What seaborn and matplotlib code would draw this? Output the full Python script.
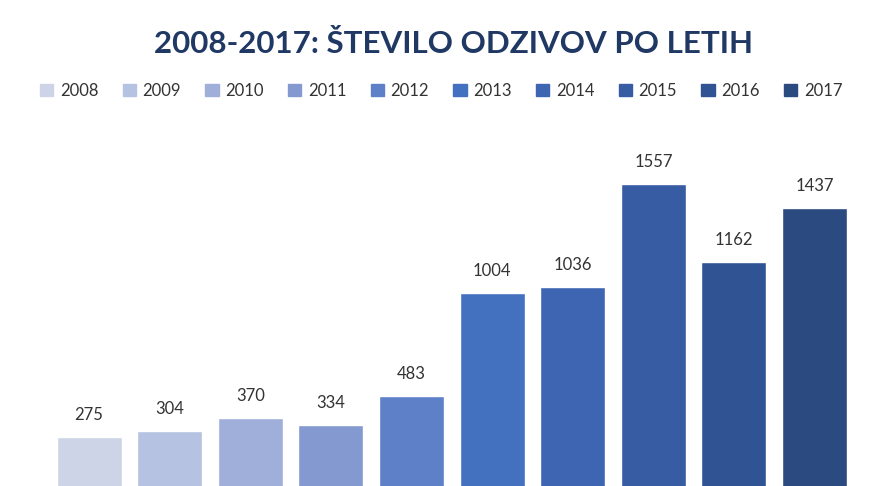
import matplotlib.pyplot as plt
import matplotlib.patches as mpatches
import seaborn as sns
import pandas as pd

# podatki
leta = ['2008', '2009', '2010', '2011', '2012', '2013', '2014', '2015', '2016', '2017']
odzivi = [275, 304, 370, 334, 483, 1004, 1036, 1557, 1162, 1437]
barve = ['#CDD4E8', '#B5C2E1', '#9FAFD9', '#8499D0', '#5E80C8',
         '#4470C0', '#3D65B2', '#375CA4', '#305493', '#2A4A80']

df = pd.DataFrame({'leto': leta, 'odzivi': odzivi})

sns.set_style('white')
plt.rcParams['font.family'] = ['Lato', 'DejaVu Sans']

fig = plt.figure(figsize=(8.84, 4.86), dpi=100)
ax = fig.add_axes([0.0551, -0.0103, 0.912, 0.73])

sns.barplot(data=df, x='leto', y='odzivi', hue='leto', palette=barve,
            dodge=False, legend=False, width=0.806, saturation=1, ax=ax)

ax.set_xlim(-0.5, 9.5)
ax.set_ylim(0, 1800)
ax.set_xlabel('')
ax.set_ylabel('')
ax.set_xticks([])
ax.set_yticks([])
sns.despine(ax=ax, left=True, bottom=True)

for i, v in enumerate(odzivi):
    ax.annotate(str(v), (i, v), xytext=(0, 10), textcoords='offset points',
                ha='center', va='bottom', fontsize=12, color='#333333')

fig.text(0.513, 0.91, '2008-2017: ŠTEVILO ODZIVOV PO LETIH', ha='center', va='center',
         fontsize=22.5, fontweight='bold', color='#203864')

rocke = [mpatches.Patch(color=c, label=l) for c, l in zip(barve, leta)]
fig.legend(handles=rocke, loc='center', bbox_to_anchor=(0.499, 0.813), ncol=10,
           frameon=False, fontsize=12, handlelength=0.8, handleheight=0.8,
           handletextpad=0.4, columnspacing=1.45, labelcolor='#333333')

fig.savefig('out.png', dpi=100)
